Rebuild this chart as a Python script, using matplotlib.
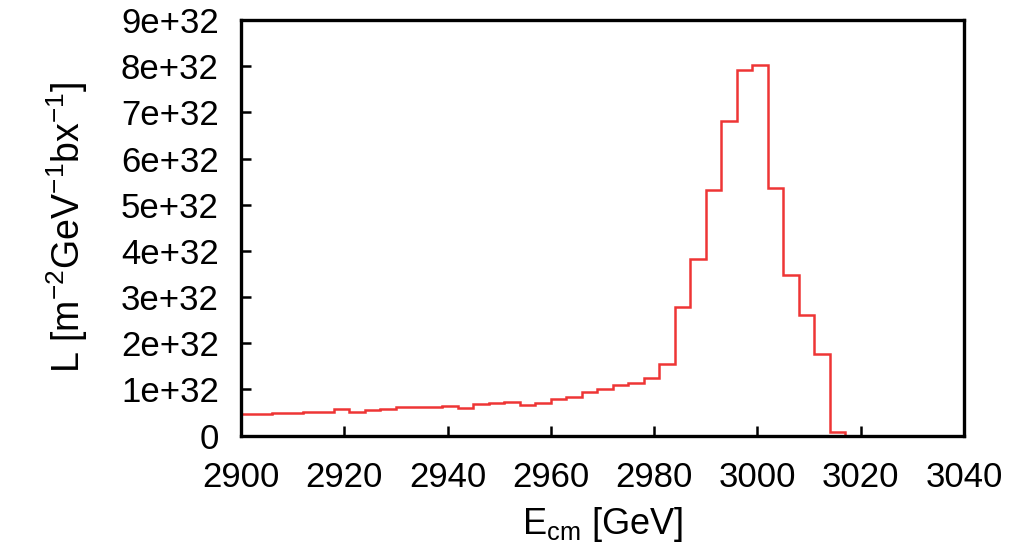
import numpy as np
import matplotlib
matplotlib.use("Agg")
import matplotlib.pyplot as plt

plt.rcParams['font.family'] = ['Liberation Sans', 'DejaVu Sans']
plt.rcParams['mathtext.fontset'] = 'custom'
plt.rcParams['mathtext.rm'] = 'Liberation Sans'
plt.rcParams['mathtext.default'] = 'regular'

# Histogram bin edges (GeV) and luminosity per bin (units of 1e32)
bin_start = 2900
bin_width = 3
lumi_1e32 = [0.46, 0.46, 0.48, 0.48, 0.51, 0.51, 0.57, 0.52, 0.55, 0.57,
             0.62, 0.62, 0.62, 0.64, 0.59, 0.68, 0.71, 0.73, 0.66, 0.71,
             0.78, 0.84, 0.95, 1.00, 1.09, 1.14, 1.24, 1.54, 2.78, 3.83,
             5.31, 6.82, 7.92, 8.03, 5.36, 3.48, 2.60, 1.77, 0.07]
xticks = [2900, 2920, 2940, 2960, 2980, 3000, 3020, 3040]
yticks = [0, 1e32, 2e32, 3e32, 4e32, 5e32, 6e32, 7e32, 8e32, 9e32]
ytick_labels = ['0', '1e+32', '2e+32', '3e+32', '4e+32', '5e+32', '6e+32',
                '7e+32', '8e+32', '9e+32']

values = np.array(lumi_1e32) * 1e32
edges = bin_start + bin_width * np.arange(len(values) + 1)

fig = plt.figure(figsize=(10.30, 5.51), dpi=100)
ax = fig.add_axes([0.234, 0.2096, 0.702, 0.7541])
ax.stairs(values, edges, baseline=0, color='#ee3535', linewidth=1.8)

ax.set_xlim(2900, 3040)
ax.set_ylim(0, 9e32)
ax.set_xticks(xticks)
ax.set_xticklabels([str(t) for t in xticks])
ax.set_yticks(yticks)
ax.set_yticklabels(ytick_labels)

for s in ax.spines.values():
    s.set_linewidth(2.4)
ax.tick_params(direction='in', length=7, width=1.8, labelsize=25)
ax.tick_params(axis='x', pad=18)
ax.tick_params(axis='y', pad=16)

ax.set_xlabel('E$_{cm}$ [GeV]', fontsize=26, labelpad=8)
ax.set_ylabel('L [m$^{-2}$GeV$^{-1}$bx$^{-1}$]', fontsize=27, labelpad=22)

fig.savefig('out.png', dpi=100)
